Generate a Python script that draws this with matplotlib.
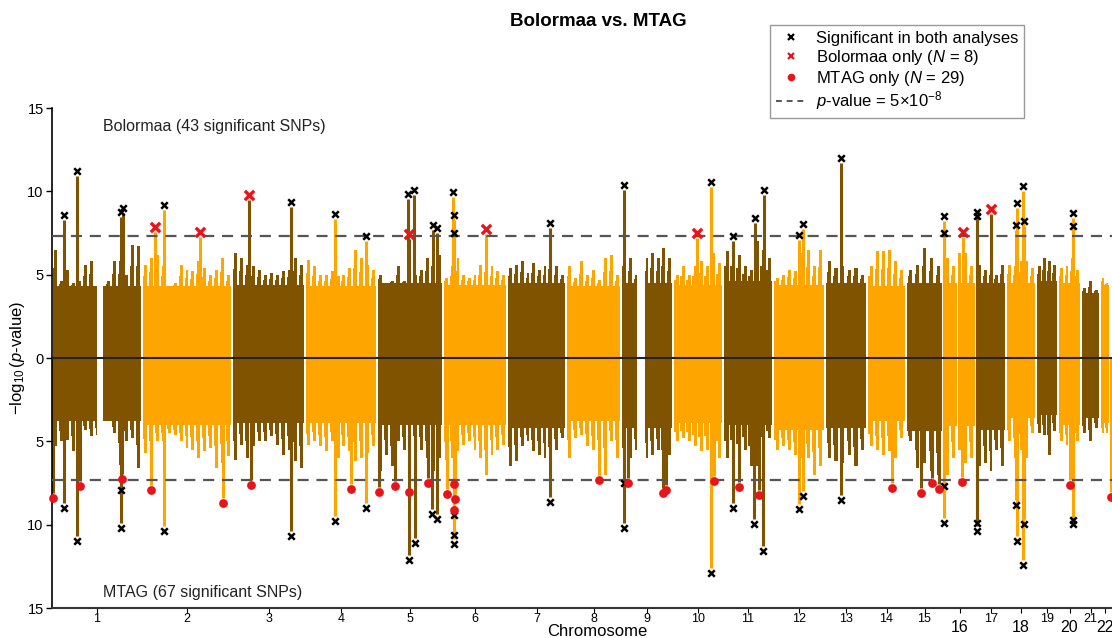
import numpy as np
import matplotlib.pyplot as plt

plt.rcParams['font.family'] = ['Liberation Sans', 'DejaVu Sans']
plt.rcParams['mathtext.fontset'] = 'custom'
plt.rcParams['mathtext.rm'] = 'Liberation Sans'
plt.rcParams['mathtext.it'] = 'Liberation Sans:italic'

# chromosome lengths (arbitrary Mb-like units)
chrom_len = [88, 88, 71, 70, 64, 62, 57, 53, 50, 48, 48, 50, 40, 37, 35, 31, 28, 28, 20, 21, 17, 8]
lower_row = [16, 18, 20, 22]

# dense part of the SNP cloud per chromosome
top_base = [4.3, 4.3, 4.4, 4.3, 4.5, 4.4, 4.5, 4.3, 4.5, 4.4, 4.6, 4.4, 4.5, 4.3, 4.5, 4.5, 4.5, 4.5, 4.6, 4.5, 3.9, 4.4]
bot_base = [3.8, 4.0, 3.9, 3.9, 4.0, 4.0, 4.2, 3.8, 4.2, 3.9, 4.0, 4.3, 4.2, 3.8, 4.4, 4.1, 4.3, 3.6, 3.4, 4.0, 3.6, 3.9]

# upper edge of the cloud, binned along each chromosome (Bolormaa, top)
top_profile = [
    [6.5, 4.6, 5.3, 4.5, 4.6, 5.6, 5.8, 4.0, 3.6, 4.6, 5.8, 5.8, 5.0, 6.8, 6.7],
    [5.6, 6.0, 6.2, 5.5, 4.3, 4.5, 5.6, 5.3, 5.2, 5.8, 5.4, 5.0, 5.3, 6.0, 5.0],
    [6.3, 6.0, 5.6, 5.5, 5.3, 5.0, 5.1, 5.0, 5.2, 5.3, 6.0, 5.6],
    [5.9, 5.5, 5.0, 5.0, 5.2, 4.9, 5.0, 5.4, 6.5, 6.0, 5.6, 5.3],
    [5.0, 4.5, 4.6, 5.5, 4.6, 5.5, 5.0, 5.3, 6.0, 6.5, 6.2],
    [4.8, 5.5, 6.0, 5.0, 4.8, 5.0, 5.6, 5.9, 5.5, 5.2, 5.0],
    [5.4, 5.6, 5.8, 5.1, 5.7, 5.3, 5.5, 6.2, 5.5, 5.0],
    [5.5, 4.8, 5.8, 5.0, 5.3, 4.7, 6.0, 6.2, 5.0],
    [6.5, 6.0, 5.0, 5.0, 6.0, 6.3, 6.0, 6.6, 6.0],
    [5.0, 5.5, 5.0, 5.5, 5.8, 5.5, 6.3, 5.7],
    [6.4, 6.5, 6.2, 5.5, 5.3, 7.0, 6.5, 6.0],
    [4.8, 5.0, 5.3, 5.2, 6.3, 6.5, 5.5, 6.5],
    [5.8, 5.4, 5.5, 5.3, 5.4, 5.0],
    [5.5, 6.4, 6.4, 6.5, 5.8, 5.3],
    [5.3, 5.6, 6.6, 6.0, 5.5],
    [6.0, 5.5, 6.3, 6.3, 5.5],
    [5.6, 5.3, 5.5, 5.0, 5.6],
    [5.6, 5.5, 5.8, 5.8, 5.4],
    [5.5, 6.0, 5.8, 5.6],
    [5.4, 5.5, 6.0, 5.3],
    [4.2, 4.6, 4.1],
    [4.8, 4.5],
]

# lower edge of the cloud (MTAG, bottom), same binning
bot_profile = [
    [5.3, 5.0, 4.9, 5.6, 4.5, 4.3, 4.7, 4.6, 3.8, 3.6, 4.5, 6.4, 5.0, 4.8, 6.6],
    [5.7, 6.0, 5.0, 5.0, 4.5, 4.6, 5.0, 5.4, 5.5, 6.0, 5.6, 5.4, 6.6, 6.3, 5.9],
    [6.1, 5.2, 6.0, 5.3, 5.0, 5.0, 4.7, 5.2, 5.8, 5.5, 6.2, 6.6],
    [5.2, 5.0, 5.3, 5.6, 5.0, 6.0, 5.3, 5.6, 6.2, 6.0, 5.7, 5.3],
    [6.8, 5.8, 6.5, 5.0, 5.5, 5.6, 5.3, 5.5, 6.0, 6.8, 6.0],
    [6.1, 6.0, 5.6, 5.2, 5.0, 5.5, 6.0, 7.0, 5.8, 5.5, 5.2],
    [6.5, 6.2, 5.3, 5.0, 5.6, 5.8, 6.0, 6.5, 5.5, 4.8],
    [6.0, 4.8, 4.6, 5.3, 5.5, 6.0, 7.0, 5.0, 6.0],
    [6.6, 6.0, 5.5, 5.0, 6.0, 5.8, 5.5, 6.8, 5.8],
    [5.0, 4.8, 5.0, 5.3, 5.6, 5.5, 6.5, 6.0],
    [6.0, 5.8, 6.3, 5.5, 6.5, 6.5, 5.5, 4.8],
    [5.5, 5.3, 5.5, 5.8, 6.0, 6.0, 7.0, 6.5],
    [6.0, 6.2, 6.3, 5.8, 6.5, 5.5],
    [5.3, 5.5, 5.8, 5.6, 6.0, 4.8],
    [5.0, 6.6, 6.3, 6.8, 7.0],
    [7.0, 6.0, 5.5, 6.3, 6.0],
    [6.5, 6.3, 6.8, 5.5, 6.5],
    [5.0, 6.0, 5.5, 6.0, 4.5],
    [4.5, 4.6, 5.8, 4.4],
    [5.0, 5.2, 6.0, 5.0],
    [4.5, 5.0, 4.2],
    [4.5, 4.5],
]

# regions without SNPs: (chromosome, start, width)
snp_gaps = [(1, 44, 6), (9, 15, 8), (16, 13, 1)]

# significant SNPs: (chromosome, position, -log10 p)
bolormaa_both = [
    (1, 11, 8.6), (1, 24, 11.2), (1, 68, 8.75), (1, 70, 9.0), (2, 21, 9.2),
    (3, 58, 9.35), (4, 29, 8.65), (4, 60, 7.3), (5, 30, 9.85), (5, 36, 10.1),
    (5, 55, 8.0), (5, 59, 7.8), (6, 9, 9.95), (6, 10, 8.6), (6, 10, 7.5),
    (7, 42, 8.1), (9, 2, 10.4), (10, 37, 10.55), (11, 9, 7.3), (11, 31, 8.4),
    (11, 40, 10.1), (12, 25, 7.4), (12, 29, 8.05), (13, 15, 12.0), (16, 0, 8.5),
    (16, 0, 7.5), (17, 0, 8.75), (17, 0, 8.5), (18, 9, 8.0), (18, 10, 9.3),
    (18, 16, 10.3), (18, 17, 8.2), (20, 14, 8.7), (20, 14, 7.9),
]
bolormaa_only = [
    (2, 12, 7.85), (2, 57, 7.55), (3, 16, 9.8), (5, 31, 7.45),
    (6, 42, 7.75), (10, 23, 7.5), (16, 19, 7.55), (17, 14, 8.95),
]
mtag_both = [
    (1, 11, 9.0), (1, 24, 11.0), (1, 68, 10.2), (1, 68, 7.9), (2, 21, 10.4),
    (3, 58, 10.7), (4, 29, 9.8), (4, 60, 9.0), (5, 31, 12.1), (5, 37, 11.1),
    (5, 54, 9.35), (5, 59, 9.65), (6, 10, 9.4), (6, 10, 10.6), (6, 10, 11.15),
    (7, 42, 8.65), (9, 2, 7.5), (9, 2, 10.2), (10, 37, 12.9), (11, 9, 9.0),
    (11, 30, 9.95), (11, 39, 11.6), (12, 25, 9.05), (12, 29, 8.3), (13, 15, 8.5),
    (16, 0, 7.7), (16, 0, 9.9), (17, 0, 9.9), (17, 0, 10.4), (18, 9, 8.8),
    (18, 10, 11.0), (18, 17, 9.95), (18, 16, 12.4), (20, 14, 9.7), (20, 14, 9.95),
]
mtag_only = [
    (1, 0, 8.4), (1, 27, 7.7), (1, 69, 7.25), (2, 8, 7.9), (2, 80, 8.7),
    (3, 18, 7.6), (4, 45, 7.85), (5, 1, 8.05), (5, 17, 7.7), (5, 31, 8.05),
    (5, 50, 7.5), (6, 3, 8.15), (6, 10, 7.55), (6, 11, 8.45), (6, 10, 9.1),
    (8, 32, 7.3), (9, 6, 7.5), (9, 41, 8.1), (9, 44, 7.9), (10, 40, 7.35),
    (11, 15, 7.75), (11, 35, 8.2), (14, 24, 7.8), (15, 14, 8.1), (15, 25, 7.5),
    (15, 32, 7.85), (16, 18, 7.45), (20, 11, 7.6), (22, 10, 8.35),
]

threshold = -np.log10(5e-8)
brown = '#805300'
orange = '#FFA500'
red = '#E8141C'
gap = 2

starts = np.cumsum([0] + [L + gap for L in chrom_len[:-1]])
def chrom_color(c):
    return brown if c % 2 == 1 else orange
def xpos(c, p):
    return starts[c - 1] + p

fig = plt.figure(figsize=(11.12, 6.38), dpi=100)
ax = fig.add_axes([52 / 1112, 30 / 638, 1060 / 1112, 500 / 638])

for i, L in enumerate(chrom_len):
    col = chrom_color(i + 1)
    s = starts[i]
    ax.bar(s, top_base[i], width=L, align='edge', color=col, lw=0, zorder=1)
    ax.bar(s, -bot_base[i], width=L, align='edge', color=col, lw=0, zorder=1)
    for prof, base, sign in [(top_profile[i], top_base[i], 1), (bot_profile[i], bot_base[i], -1)]:
        n = len(prof)
        w = L / n
        cx = s + (np.arange(n) + 0.5) * w
        prof = np.array(prof)
        ax.bar(cx, sign * prof, width=0.5 * w, color=col, lw=0, zorder=1)
        ax.bar(cx - 0.3 * w, sign * (prof + base) / 2, width=0.25 * w, color=col, lw=0, zorder=1)

for c, p, w in snp_gaps:
    ax.bar(xpos(c, p), 16, bottom=-8, width=w, align='edge', color='white', lw=0, zorder=1.5)

# peaks under significant SNPs
for c, p, v in bolormaa_both + bolormaa_only:
    ax.vlines(xpos(c, p), 0, v - 0.3, color=chrom_color(c), lw=2.2, zorder=2)
for c, p, v in mtag_both + mtag_only:
    ax.vlines(xpos(c, p), 0, -(v - 0.3), color=chrom_color(c), lw=2.2, zorder=2)

ax.axhline(threshold, color='#555555', ls=(0, (5, 3.5)), lw=1.6, zorder=3)
ax.axhline(-threshold, color='#555555', ls=(0, (5, 3.5)), lw=1.6, zorder=3)
ax.axhline(0, color='#222222', lw=1.5, zorder=3)

def xs(lst):
    return [xpos(c, p) for c, p, v in lst]
def vs(lst, sign):
    return [sign * v for c, p, v in lst]

ax.scatter(xs(bolormaa_both), vs(bolormaa_both, 1), marker='x', s=22, c='black', lw=1.8, zorder=5, clip_on=False)
ax.scatter(xs(mtag_both), vs(mtag_both, -1), marker='x', s=22, c='black', lw=1.8, zorder=5, clip_on=False)
ax.scatter(xs(bolormaa_only), vs(bolormaa_only, 1), marker='x', s=45, c=red, lw=2.4, zorder=5, clip_on=False)
ax.scatter(xs(mtag_only), vs(mtag_only, -1), marker='o', s=40, c=red, lw=0, zorder=5, clip_on=False)

ax.set_xlim(-1, 1059)
ax.set_ylim(-15, 15)
ax.set_yticks([-15, -10, -5, 0, 5, 10, 15])
ax.set_yticklabels([str(abs(t)) for t in [-15, -10, -5, 0, 5, 10, 15]], fontsize=10.5)
ax.tick_params(axis='y', length=4, width=1, direction='out', pad=2)

centers = [s + L / 2 for s, L in zip(starts, chrom_len)]
ax.set_xticks(centers)
ax.set_xticklabels([str(i + 1) for i in range(len(chrom_len))])
for i, tick in enumerate(ax.xaxis.get_major_ticks()):
    if i + 1 in lower_row:
        tick.tick1line.set_markersize(4)
        tick.set_pad(5.5)
        tick.label1.set_fontsize(11.5)
    else:
        tick.tick1line.set_markersize(0)
        tick.set_pad(0)
        tick.label1.set_fontsize(9)

for side in ['top', 'right']:
    ax.spines[side].set_visible(False)
ax.spines['left'].set_linewidth(1.2)
ax.spines['bottom'].set_linewidth(1.5)
ax.spines['bottom'].set_color('#333333')

ax.set_xlabel('Chromosome', fontsize=12)
ax.xaxis.set_label_coords(0.514, -0.033)
ax.set_ylabel(r'$-\log_{10}(p$-value$)$', fontsize=12)
ax.yaxis.set_label_coords(-0.024, 0.5)

ax.text(50, 13.9, 'Bolormaa (43 significant SNPs)', fontsize=11.5, va='center', ha='left', color='#222222')
ax.text(50, -14.1, 'MTAG (67 significant SNPs)', fontsize=11.5, va='center', ha='left', color='#222222')

fig.text(0.538, 0.966, 'Bolormaa vs. MTAG', ha='center', va='center', fontsize=13.5, weight='bold')

handles = [
    plt.Line2D([], [], ls='none', marker='x', color='black', ms=5, mew=1.6),
    plt.Line2D([], [], ls='none', marker='x', color=red, ms=5, mew=1.6),
    plt.Line2D([], [], ls='none', marker='o', color=red, ms=5.5, mew=0),
    plt.Line2D([], [], color='#555555', ls=(0, (3, 2.5)), lw=1.4),
]
labels = ['Significant in both analyses', r'Bolormaa only ($N$ = 8)', r'MTAG only ($N$ = 29)',
          r'$p$-value = 5$\times$10$^{-8}$']
fig.legend(handles, labels, loc='upper left', bbox_to_anchor=(762 / 1112, 1 - 17 / 638),
           fontsize=12, frameon=True, fancybox=False, edgecolor='#999999', framealpha=1,
           handlelength=1.8, handletextpad=0.6, labelspacing=0.1, borderpad=0.35)

fig.savefig('out.png', dpi=100)
